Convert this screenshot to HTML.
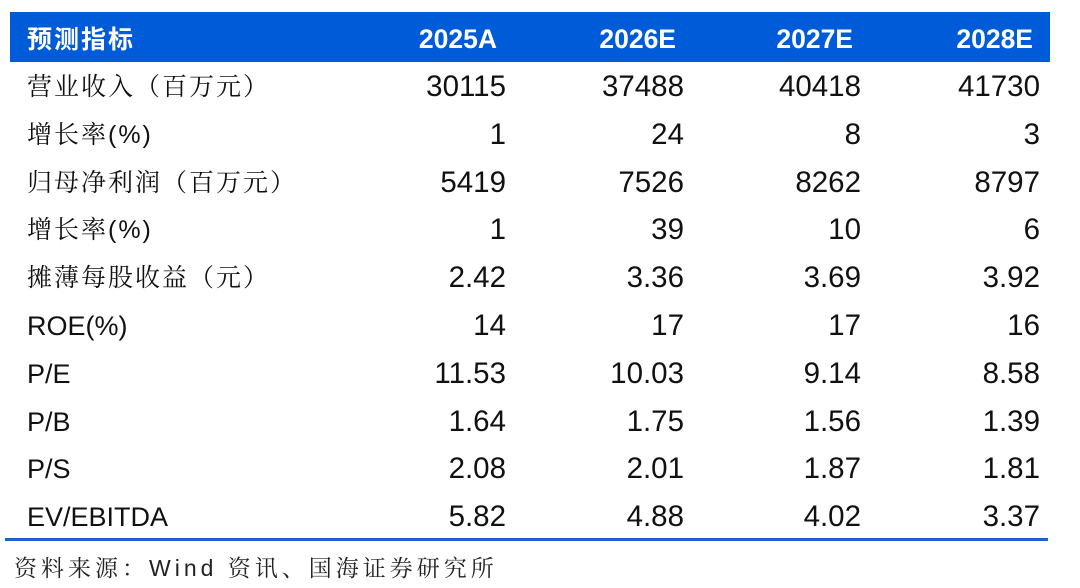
<!DOCTYPE html>
<html><head><meta charset="utf-8"><style>
body{margin:0;width:1080px;height:588px;background:#fff;position:relative;overflow:hidden;font-family:"Liberation Sans","Noto Sans CJK SC",sans-serif}
#hdr{position:absolute;left:10px;top:12px;width:1040px;height:50px;background:#005BD9}
.h{position:absolute;color:#fff;font-weight:bold;font-size:26.5px;line-height:54px;top:0}
.lab{position:absolute;left:27px;font-size:25px;color:#111;font-family:"Liberation Sans","Noto Serif CJK SC",serif;letter-spacing:2px;line-height:30px}
.v{position:absolute;font-size:29.5px;color:#111;line-height:30px;text-align:right;width:150px}
#line{position:absolute;left:5px;top:538px;width:1043px;height:3px;background:#1f5fd0}
#src{position:absolute;left:14px;top:550px;font-size:23px;color:#222;font-family:"Liberation Sans","Noto Serif CJK SC",serif;letter-spacing:4px}
</style></head><body>
<div id="hdr">
<span class="h" style="left:17px;font-family:'Noto Sans CJK SC',sans-serif;letter-spacing:2px;font-size:25px;line-height:52px">预测指标</span>
<span class="h" style="right:553px">2025A</span>
<span class="h" style="right:374px">2026E</span>
<span class="h" style="right:197px">2027E</span>
<span class="h" style="right:17px">2028E</span>
</div>
<div id="rows"></div>
<div id="line"></div>
<div id="src">资料来源：Wind 资讯、国海证券研究所</div>
<script>
const labels=["营业收入（百万元）","增长率(%)","归母净利润（百万元）","增长率(%)","摊薄每股收益（元）","ROE(%)","P/E","P/B","P/S","EV/EBITDA"];
const y2025=["30115","1","5419","1","2.42","14","11.53","1.64","2.08","5.82"];
const y2026=["37488","24","7526","39","3.36","17","10.03","1.75","2.01","4.88"];
const y2027=["40418","8","8262","10","3.69","17","9.14","1.56","1.87","4.02"];
const y2028=["41730","3","8797","6","3.92","16","8.58","1.39","1.81","3.37"];
const cols=[y2025,y2026,y2027,y2028];
const rights=[506,684,861,1040];
const root=document.getElementById('rows');
labels.forEach((l,i)=>{
 const top=72+i*47.8;
 const d=document.createElement('div');d.className='lab';d.style.top=top+'px';d.textContent=l;
 if(/^[A-Z]/.test(l)){d.style.letterSpacing='0';d.style.fontSize='27px';d.style.fontFamily='"Liberation Sans",sans-serif';}
 
 
 root.appendChild(d);
 cols.forEach((c,j)=>{
  const v=document.createElement('div');v.className='v';v.style.top=top+'px';v.style.left=(rights[j]-150)+'px';v.textContent=c[i];
  
  
  root.appendChild(v);
 });
});
</script>
</body></html>
